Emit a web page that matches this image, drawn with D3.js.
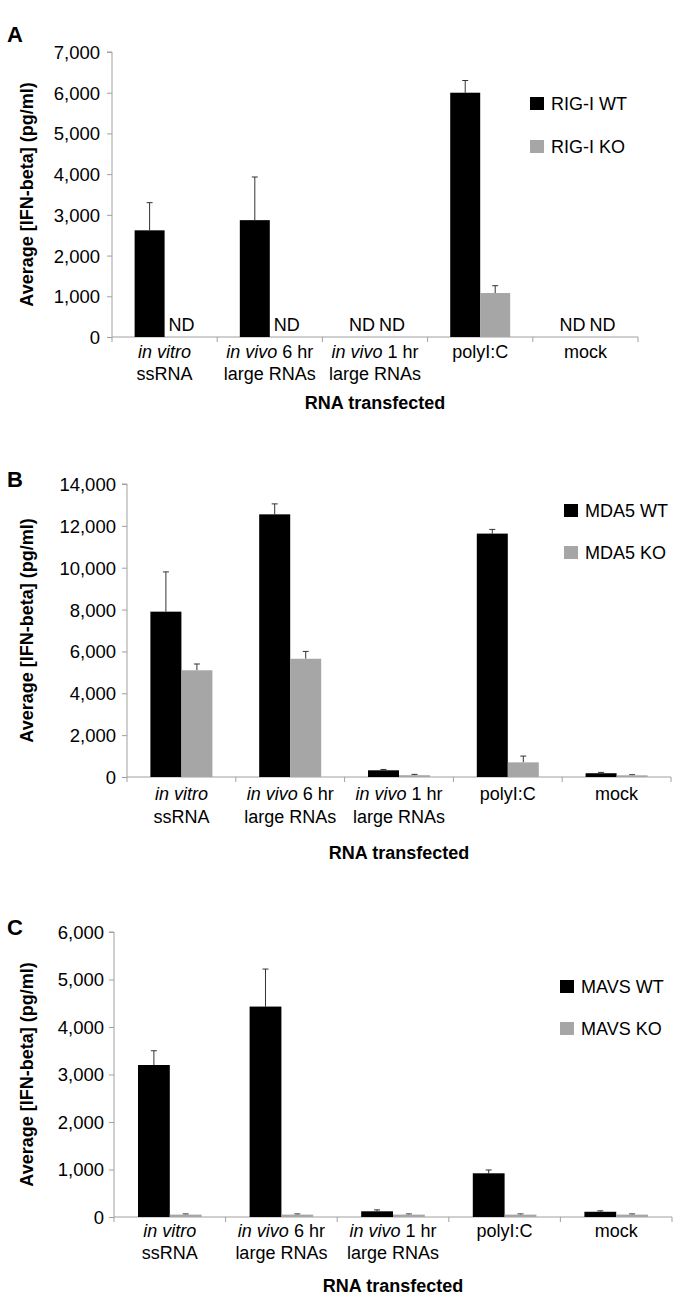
<!DOCTYPE html>
<html>
<head>
<meta charset="utf-8">
<script src="https://cdn.jsdelivr.net/npm/d3@7"></script>
<style>
  html, body { margin: 0; padding: 0; background: #fff; }
  svg { display: block; font-family: "Liberation Sans", Arial, Helvetica, sans-serif; }
</style>
</head>
<body>
<svg id="chart" width="680" height="1299"></svg>
<script>
// ---------- DATA ----------
const catItalic = ["in vitro", "in vivo", "in vivo", "", ""];
const catRest   = ["", " 6 hr", " 1 hr", "polyI:C", "mock"];
const catLine2  = ["ssRNA", "large RNAs", "large RNAs", "", ""];

// Panel A (RIG-I); null = ND
const rigWT     = [2620, 2870, null, 6000, null];
const rigWTErr  = [680, 1060, null, 300, null];
const rigKO     = [null, null, null, 1080, null];
const rigKOErr  = [null, null, null, 180, null];
const rigTicks  = [0, 1000, 2000, 3000, 4000, 5000, 6000, 7000];

// Panel B (MDA5)
const mdaWT     = [7900, 12550, 320, 11630, 180];
const mdaWTErr  = [1900, 500, 40, 200, 40];
const mdaKO     = [5100, 5650, 85, 700, 80];
const mdaKOErr  = [300, 350, 40, 300, 30];
const mdaTicks  = [0, 2000, 4000, 6000, 8000, 10000, 12000, 14000];

// Panel C (MAVS)
const mavsWT    = [3200, 4430, 120, 920, 110];
const mavsWTErr = [300, 790, 30, 70, 20];
const mavsKO    = [50, 50, 50, 50, 50];
const mavsKOErr = [15, 15, 15, 15, 15];
const mavsTicks = [0, 1000, 2000, 3000, 4000, 5000, 6000];

const legendA = ["RIG-I WT", "RIG-I KO"];
const legendB = ["MDA5 WT", "MDA5 KO"];
const legendC = ["MAVS WT", "MAVS KO"];

const yTitle = "Average [IFN-beta] (pg/ml)";
const xTitle = "RNA transfected";

// ---------- STYLE ----------
const WT_COLOR = "#000000";
const KO_COLOR = "#a6a6a6";
const AXIS_COLOR = "#a0a0a0";
const FS = 18;

const svg = d3.select("#chart");

function panel(cfg) {
  const g = svg.append("g");
  const x = d3.scaleBand().domain(d3.range(catItalic.length)).range([cfg.x0, cfg.x1]).padding(0);
  const y = d3.scaleLinear().domain([0, cfg.ticks[cfg.ticks.length - 1]]).range([cfg.y0, cfg.y1]);
  const bw = x.bandwidth() * 0.285;

  // y axis
  const yAxis = d3.axisLeft(y).tickValues(cfg.ticks).tickFormat(d3.format(",")).tickSize(5).tickPadding(cfg.tp);
  const ya = g.append("g").attr("transform", `translate(${cfg.x0},0)`).call(yAxis);
  ya.select(".domain").attr("stroke", AXIS_COLOR).attr("d", `M-5,${cfg.y1}H0V${cfg.y0}`);
  ya.selectAll(".tick line").attr("stroke", AXIS_COLOR);
  ya.selectAll(".tick text").attr("font-size", 18.5).attr("fill", "#000")
    .attr("font-family", '"Liberation Sans", Arial, sans-serif').attr("dy", "0.35em");

  // x axis line & boundary ticks
  g.append("line").attr("x1", cfg.x0).attr("x2", cfg.x1).attr("y1", cfg.y0).attr("y2", cfg.y0)
    .attr("stroke", AXIS_COLOR);
  const bounds = d3.range(catItalic.length + 1).map(i => i < catItalic.length ? x(i) : cfg.x1);
  g.selectAll(".xt").data(bounds).join("line")
    .attr("x1", d => d).attr("x2", d => d).attr("y1", cfg.y0).attr("y2", cfg.y0 + 5)
    .attr("stroke", AXIS_COLOR);

  const series = [
    { vals: cfg.wt, err: cfg.wtErr, color: WT_COLOR, off: -bw },
    { vals: cfg.ko, err: cfg.koErr, color: KO_COLOR, off: 0 }
  ];
  series.forEach(s => {
    const data = s.vals.map((v, i) => ({ v, e: s.err[i], i }));
    const cx = d => x(d.i) + x.bandwidth() / 2 + s.off;
    const eb = data.filter(d => d.v !== null && d.e !== null);
    g.selectAll(null).data(eb).join("line")
      .attr("x1", d => cx(d) + bw / 2).attr("x2", d => cx(d) + bw / 2)
      .attr("y1", d => y(d.v)).attr("y2", d => y(d.v + d.e))
      .attr("stroke", "#333").attr("stroke-width", 1);
    g.selectAll(null).data(eb).join("line")
      .attr("x1", d => cx(d) + bw / 2 - 3).attr("x2", d => cx(d) + bw / 2 + 3)
      .attr("y1", d => y(d.v + d.e)).attr("y2", d => y(d.v + d.e))
      .attr("stroke", "#333").attr("stroke-width", 1);
    g.selectAll(null).data(data.filter(d => d.v !== null)).join("rect")
      .attr("x", d => cx(d)).attr("width", bw)
      .attr("y", d => y(d.v)).attr("height", d => y(0) - y(d.v))
      .attr("fill", s.color);
    if (cfg.nd) {
      g.selectAll(null).data(data.filter(d => d.v === null)).join("text")
        .attr("x", d => cx(d) + bw / 2 + 2).attr("y", cfg.y0 - 6)
        .attr("text-anchor", "middle").attr("font-size", FS).text("ND");
    }
  });

  // category labels
  catItalic.forEach((it, i) => {
    const cxm = x(i) + x.bandwidth() / 2;
    const t = g.append("text").attr("x", cxm).attr("y", cfg.lab1).attr("text-anchor", "middle").attr("font-size", FS);
    if (it) t.append("tspan").attr("font-style", "italic").text(it);
    if (catRest[i]) t.append("tspan").text(catRest[i]);
    if (catLine2[i]) g.append("text").attr("x", cxm).attr("y", cfg.lab2).attr("text-anchor", "middle")
      .attr("font-size", FS).text(catLine2[i]);
  });

  g.append("text").attr("x", (cfg.x0 + cfg.x1) / 2).attr("y", cfg.xt).attr("text-anchor", "middle")
    .attr("font-size", FS).attr("font-weight", "bold").text(xTitle);
  g.append("text").attr("transform", `translate(33,${(cfg.y0 + cfg.y1) / 2}) rotate(-90)`)
    .attr("text-anchor", "middle").attr("font-size", FS).attr("font-weight", "bold").text(yTitle);
  g.append("text").attr("x", 7).attr("y", cfg.ly).attr("font-size", 22).attr("font-weight", "bold").text(cfg.letter);

  cfg.legend.forEach((name, k) => {
    const yy = cfg.legY + k * cfg.legGap;
    g.append("rect").attr("x", cfg.legX).attr("y", yy).attr("width", 14).attr("height", 13)
      .attr("fill", k === 0 ? WT_COLOR : KO_COLOR);
    g.append("text").attr("x", cfg.legX + 21).attr("y", yy + 13).attr("font-size", FS).text(name);
  });
}

panel({ letter: "A", ly: 42, x0: 112, x1: 638, y0: 337, y1: 52, ticks: rigTicks, tp: 7,
  wt: rigWT, wtErr: rigWTErr, ko: rigKO, koErr: rigKOErr, nd: true,
  lab1: 358, lab2: 380, xt: 409, legend: legendA, legX: 530, legY: 97, legGap: 43 });

panel({ letter: "B", ly: 487, x0: 127, x1: 671, y0: 777, y1: 484, ticks: mdaTicks, tp: 6,
  wt: mdaWT, wtErr: mdaWTErr, ko: mdaKO, koErr: mdaKOErr, nd: false,
  lab1: 800, lab2: 823, xt: 859, legend: legendB, legX: 564, legY: 504, legGap: 42 });

panel({ letter: "C", ly: 935, x0: 114, x1: 672, y0: 1217, y1: 932, ticks: mavsTicks, tp: 5,
  wt: mavsWT, wtErr: mavsWTErr, ko: mavsKO, koErr: mavsKOErr, nd: false,
  lab1: 1237, lab2: 1259, xt: 1292, legend: legendC, legX: 560, legY: 980, legGap: 42 });
</script>
</body>
</html>
